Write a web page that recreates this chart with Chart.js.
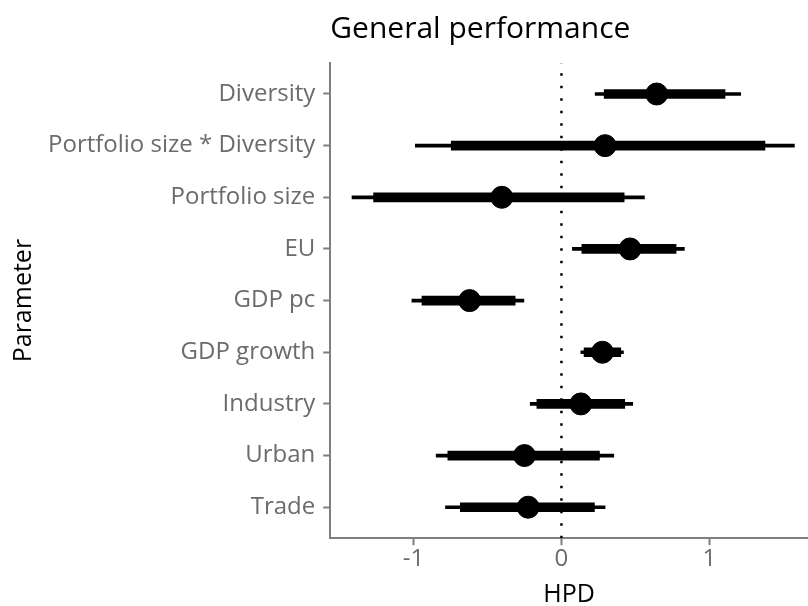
<!DOCTYPE html>
<html>
<head>
<meta charset="utf-8">
<script src="https://cdn.jsdelivr.net/npm/chart.js@4.4.1/dist/chart.umd.min.js"></script>
<style>
  html, body { margin: 0; padding: 0; background: #ffffff; }
  #wrap { width: 808px; height: 606px; position: relative; }
</style>
</head>
<body>
<div id="wrap"><canvas id="c" width="808" height="606"></canvas></div>
<script>
// Parameters, bottom to top (Trade = 1 ... Diversity = 9)
const parameters = ["Trade", "Urban", "Industry", "GDP growth", "GDP pc", "EU", "Portfolio size", "Portfolio size * Diversity", "Diversity"];
const estimates  = [-0.225, -0.250, 0.131, 0.277, -0.621, 0.464, -0.403, 0.295, 0.644];
const outerLow   = [-0.784, -0.847, -0.211, 0.131, -1.011, 0.074, -1.416, -0.988, 0.228];
const outerHigh  = [0.295, 0.354, 0.482, 0.419, -0.254, 0.831, 0.561, 1.575, 1.212];
const innerLow   = [-0.684, -0.768, -0.166, 0.153, -0.943, 0.138, -1.270, -0.745, 0.289];
const innerHigh  = [0.223, 0.257, 0.428, 0.401, -0.313, 0.775, 0.424, 1.376, 1.106];
const xTicks     = [-1, 0, 1];
const refLine    = 0;

const FONT = "'Open Sans'";
const GREY_TXT = "#6b6b6b";
const GREY_AX = "#7f7f7f";

const idx = parameters.map((_, i) => i + 1);

new Chart(document.getElementById("c"), {
  data: {
    datasets: [
      {
        type: "line",
        data: [{x: refLine, y: 0.4}, {x: refLine, y: 9.6}],
        borderColor: "#000",
        borderWidth: 2.5,
        borderDash: [2.5, 10],
        pointRadius: 0,
        order: 4
      },
      {
        type: "bar",
        data: idx.map((y, i) => ({x: [outerLow[i], outerHigh[i]], y: y})),
        backgroundColor: "#000",
        barThickness: 3,
        grouped: false,
        borderSkipped: false,
        order: 3
      },
      {
        type: "bar",
        data: idx.map((y, i) => ({x: [innerLow[i], innerHigh[i]], y: y})),
        backgroundColor: "#000",
        barThickness: 9,
        grouped: false,
        borderSkipped: false,
        order: 2
      },
      {
        type: "scatter",
        data: idx.map((y, i) => ({x: estimates[i], y: y})),
        backgroundColor: "#000",
        borderColor: "#000",
        pointRadius: 11,
        pointHoverRadius: 11,
        order: 1
      }
    ]
  },
  options: {
    indexAxis: "y",
    responsive: false,
    animation: false,
    events: [],
    layout: { autoPadding: false, padding: { top: 11, right: 0, left: 6, bottom: 0 } },
    plugins: {
      legend: { display: false },
      tooltip: { enabled: false },
      title: {
        display: true,
        text: "General performance",
        align: "start",
        fullSize: false,
        color: "#000",
        font: { family: FONT, size: 30, weight: "normal" },
        padding: { top: 0, bottom: 16 }
      }
    },
    scales: {
      x: {
        type: "linear",
        min: -1.563,
        max: 1.667,
        afterBuildTicks: (s) => { s.ticks = xTicks.map(v => ({value: v})); },
        ticks: {
          color: GREY_TXT,
          font: { family: FONT, size: 24 },
          padding: 0,
          callback: (v) => String(v)
        },
        grid: { display: true, drawOnChartArea: false, drawTicks: true, tickLength: 7, tickWidth: 2, tickColor: GREY_AX, offset: false },
        border: { display: true, color: GREY_AX, width: 2 },
        title: { display: true, text: "HPD", color: "#000", font: { family: FONT, size: 25 }, padding: { top: 6, bottom: -4 } }
      },
      y: {
        type: "linear",
        min: 0.4,
        max: 9.6,
        offset: false,
        afterBuildTicks: (s) => { s.ticks = idx.map(v => ({value: v})); },
        ticks: {
          color: GREY_TXT,
          font: { family: FONT, size: 24 },
          padding: 8,
          autoSkip: false,
          callback: (v) => parameters[Math.round(v) - 1] || ""
        },
        grid: { display: true, drawOnChartArea: false, drawTicks: true, tickLength: 7, tickWidth: 2, tickColor: GREY_AX, offset: false },
        border: { display: true, color: GREY_AX, width: 2 },
        title: { display: true, text: "Parameter", color: "#000", font: { family: FONT, size: 25 }, padding: { top: 3, bottom: 1 } }
      }
    }
  }
});
</script>
</body>
</html>
